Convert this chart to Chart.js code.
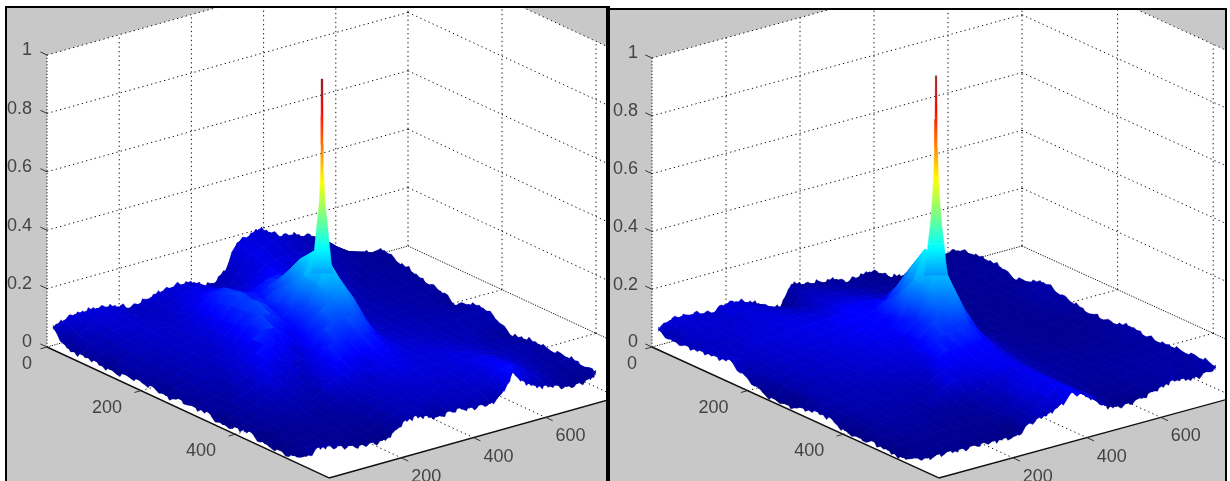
<!DOCTYPE html>
<html><head><meta charset="utf-8">
<style>
html,body{margin:0;padding:0;background:#fff;width:1230px;height:481px;overflow:hidden}
#fl,#fr{position:absolute;background:#000}
canvas{position:absolute;display:block}
</style>
<script src="https://cdn.jsdelivr.net/npm/chart.js@4"></script>
</head><body>
<div id="fl" style="left:5px;top:6px;width:605px;height:475px"></div>
<div id="fr" style="left:610px;top:8px;width:617px;height:473px"></div>
<canvas id="cl" width="599" height="473" style="left:7px;top:8px;width:599px;height:473px"></canvas>
<canvas id="cr" width="615" height="471" style="left:610px;top:10px;width:615px;height:471px"></canvas>
<script>
/* axis ticks */
const zTicks=[0,0.2,0.4,0.6,0.8,1];
const zTickText=['0','0.2','0.4','0.6','0.8','1'];
const aTicks=[0,200,400];
const bTicks=[200,400,600];
const aGrid=[200,400,600];
const bGrid=[200,400,600,800,1000];
const aMax=600,bMax=1000;
/* sample positions of the surface */
const aSamples=[5,35,65,95,125,155,185,215,245,275,305,335,365,395,425,455,485,515,545];
const bSamplesLeft=[10,40,70,100,130,160,190,220,250,280,310,340,370,400,430,460,490,520,550,580,610,640,670,700,730,760,790,811];
const bSamplesRight=[10,40,70,100,130,160,190,220,250,280,310,340,370,400,430,460,490,520,550,580,610,640,670,700,730,760,790,820];
/* surface heights, thousandths, one row per aSample */
const leftHeights=[
[68,80,90,90,90,85,75,60,65,75,85,90,90,85,60,65,100,180,190,205,185,160,155,140,130,110,65,30],
[20,55,70,78,82,80,72,65,62,70,82,95,100,95,80,78,110,165,178,188,175,160,150,138,125,105,80,60],
[20,45,60,70,74,76,70,66,64,72,90,108,115,105,92,95,120,150,160,168,160,150,140,128,118,105,100,90],
[20,40,52,62,68,72,70,66,70,85,115,140,145,125,110,120,135,140,145,150,145,135,122,115,110,108,118,120],
[14,38,48,58,64,68,68,68,78,100,135,158,155,135,128,150,155,125,122,125,122,115,105,100,100,105,110,100],
[20,36,46,54,60,64,66,70,85,112,148,168,150,140,160,210,170,110,100,100,98,95,90,90,92,98,100,90],
[24,34,44,52,58,62,64,70,88,118,152,176,150,145,205,280,215,100,85,82,80,80,80,82,85,88,85,75],
[24,32,42,50,56,60,64,74,105,140,165,155,125,160,255,330,255,105,80,72,72,74,75,76,78,80,76,70],
[14,30,40,48,54,60,70,92,120,145,140,110,115,170,250,320,250,115,78,70,68,68,70,72,72,70,60,45],
[24,30,38,46,52,62,85,110,125,115,95,95,130,190,225,260,205,100,76,68,66,66,66,68,68,68,66,70],
[20,30,38,44,54,75,95,105,100,80,75,105,160,175,180,190,145,90,76,68,65,64,64,64,66,68,72,80],
[24,28,36,46,62,80,88,80,65,62,90,135,140,135,145,140,100,85,76,70,66,62,60,58,58,58,60,60],
[5,26,34,46,58,70,68,58,55,70,110,115,110,108,120,108,90,82,78,74,70,64,58,54,50,44,36,30],
[17,24,32,40,50,54,50,44,60,90,95,88,84,96,100,92,84,82,80,80,76,70,62,54,50,48,42,40],
[24,24,30,34,40,42,40,38,55,70,72,70,80,86,88,84,80,80,82,86,86,78,66,56,52,50,46,45],
[7,20,26,30,32,34,34,36,42,52,62,70,76,78,78,76,74,76,82,92,96,86,70,58,50,46,42,40],
[7,20,24,26,28,30,30,32,40,54,66,70,72,70,68,66,66,70,80,100,110,92,72,56,44,36,38,45],
[10,28,28,26,24,24,22,24,34,54,68,70,66,60,58,56,56,60,72,105,115,92,68,50,34,28,32,40],
[30,50,45,35,25,17,15,12,30,58,65,55,40,48,50,40,40,35,58,120,80,55,45,35,20,20,25,40]];
const rightHeights=[
[62,80,83,80,73,66,83,83,70,55,30,20,90,80,73,66,66,45,52,60,45,20,15,17,40,50,50,50],
[45,62,72,74,72,68,76,80,74,66,56,52,88,84,76,70,68,56,56,58,48,36,32,32,42,52,56,60],
[50,58,64,68,70,70,72,76,76,72,66,66,86,88,82,74,70,62,60,58,50,44,42,42,46,54,60,63],
[55,56,60,64,68,70,72,74,76,76,74,76,88,92,90,84,76,66,60,56,50,46,44,44,48,54,58,60],
[60,56,58,62,66,68,70,72,76,80,82,86,94,98,100,96,90,74,60,52,46,42,40,40,42,44,44,40],
[70,58,56,60,64,66,68,70,74,80,86,92,98,104,125,165,130,85,58,48,42,38,36,36,38,42,48,55],
[40,50,54,58,62,64,66,68,72,78,86,92,98,115,175,255,180,90,58,46,40,36,34,34,38,46,62,75],
[17,42,50,56,60,62,64,66,70,76,84,90,96,125,245,340,245,100,60,46,40,36,34,34,38,46,56,60],
[4,36,46,52,58,60,62,64,68,74,80,88,100,135,235,330,240,100,58,44,38,34,32,32,34,40,48,50],
[4,32,44,50,54,56,58,62,66,70,76,84,105,150,185,250,165,85,54,42,36,32,30,30,32,36,40,40],
[17,34,44,50,52,52,54,56,60,62,72,92,125,135,145,155,115,70,50,40,36,32,30,28,30,34,38,40],
[28,38,44,48,48,48,48,48,52,56,72,100,112,115,115,115,90,58,44,38,36,34,32,30,32,36,40,45],
[28,38,42,44,44,42,42,42,46,56,82,92,95,100,105,100,76,50,40,38,38,38,36,36,38,42,48,60],
[7,30,38,40,40,38,36,34,44,60,72,76,78,88,98,92,68,46,38,38,40,40,40,40,42,44,48,50],
[4,26,34,36,36,34,32,30,28,28,34,44,56,74,95,90,64,42,36,36,40,42,44,44,46,46,48,50],
[14,22,28,30,30,28,26,24,22,24,32,44,56,76,96,90,62,40,34,34,38,42,46,48,50,50,52,55],
[7,18,22,24,24,22,20,18,18,20,30,44,58,76,100,90,60,36,28,28,32,38,44,50,50,48,50,55],
[4,14,18,20,20,18,16,14,14,14,28,44,56,76,102,92,60,32,20,20,26,34,42,50,50,44,48,60],
[24,14,17,17,14,14,14,10,10,7,35,48,55,73,104,90,62,28,14,14,20,30,40,52,48,40,48,55]];
/* small-scale roughness of the four outer edges, three readings per sample gap */
const leftBackRough=[3,1,6,2,7,3,5,1,4,8,2,5,1,6,3,7,2,4,5,9,1,3,6,2,8,4,1,5,2,7,3,6,1,4,9,2,6,3,5,1,7,2,8,4,1,6,3,5,2,9,4,1,7,3,5,2,6,8,1,4,3,7,2,5,6,1,8,3,4,2,7,5,1,6,3,9,2,4,6,1,5];
const leftRearRough=[2,6,1,5,3,8,2,4,7,1,6,3,5,2,9,4,1,6,3,7,2,5,8,1,4,6,2,7,3,5,1,8,4,2,6,3,7,1,5,9,2,4,6,3,1,7,5,2,8,3,6,1,4,5];
const leftFrontRough=[4,9,2,6,1,7,3,8,5,2,9,4,1,6,8,3,7,2,5,9,1,6,4,8,2,3,7,5,1,9,6,2,8,4,3,7,1,5,9,2,6,8,3,4,7,1,9,5,2,6,3,8,4,1,7,5,9,2,3,6,8,1,4,7,2,9,5,3,6,1,8,4,2,7,5,3,9,1,6,4,8];
const leftSideRough=[1,8,3,6,2,9,4,1,7,5,3,8,2,6,9,1,4,7,3,5,8,2,6,1,9,4,3,7,5,2,8,1,6,4,9,3,2,7,5,8,1,6,3,9,4,2,5,7,1,8,6,3,4,2];
const rightBackRough=[2,5,1,4,7,2,6,3,1,5,8,2,4,6,1,3,7,5,2,6,4,1,8,3,5,2,7,1,4,6,3,2,8,5,1,4,7,2,6,3,5,1,9,4,2,6,3,7,1,5,4,2,8,3,6,1,5,2,7,4,3,6,1,8,2,5,4,7,1,3,6,2,5,8,1,4,3,6,2,7,4];
const rightRearRough=[3,7,1,5,2,6,4,1,8,3,5,2,7,4,1,6,2,5,3,8,1,4,6,2,7,3,5,1,4,8,2,6,3,5,1,7,4,2,6,3,8,1,5,2,4,7,3,1,6,5,2,8,4,1];
const rightFrontRough=[3,6,1,7,4,2,8,5,1,6,3,7,2,9,4,1,5,7,3,6,2,8,1,4,7,5,2,6,9,3,1,8,4,6,2,5,7,1,3,9,6,2,4,8,1,5,3,7,2,6,4,9,1,5,3,8,2,6,7,1,4,5,9,2,3,7,6,1,8,4,2,5,6,3,7,1,9,4,2,5,6];
const rightSideRough=[2,7,4,1,6,3,8,2,5,7,1,4,9,3,6,2,8,5,1,7,4,3,6,9,2,5,1,8,4,3,7,2,6,5,1,9,3,4,8,2,6,1,5,7,3,9,2,4,6,1,8,5,3,2];
/* colour data relative to height (the surface colour is not height alone) */
const cRowA=[5,125,245,365,545];
const cColB=[10,125,240,355,470,585,700,820];
const leftColorGain=[
[.9,.9,.95,.9,.6,.37,.35,.2],
[.95,.95,1,1,1,.5,.3,.15],
[.9,.95,1,1,1,.8,.5,.4],
[.85,.85,.9,1,1,1,.9,.7],
[.7,.6,.6,.7,1,1,.9,.8]];
const rightColorGain=[
[1,1,1,.4,.4,.3,.3,.3],
[1.1,1.2,1.3,1.3,1,.5,.5,.5],
[1,1.1,1.2,1.2,1,.5,.5,.6],
[.9,1,1.1,1.1,1.1,.7,.6,.6],
[.8,.8,.9,1.1,1.1,.8,.7,.7]];
/* central spike: position, height and radius at that height */
const leftPeakPosition=[226,468];
const rightPeakPosition=[232,468];
const leftPeakZ=[.26,.30,.37,.42,.50,.60,.70,.80,.925];
const leftPeakR=[19,15.5,12,9.5,5,2.8,2,1.5,1.1];
const rightPeakZ=[.26,.30,.37,.43,.50,.60,.70,.80,.95];
const rightPeakR=[20,17,13.5,10,7,4,2.6,1.8,1.1];

const GREY='#c8c8c8';
function jet(t){t=Math.max(0,Math.min(1,t));
 const f=(c)=>Math.round(255*Math.max(0,Math.min(1,1.5-Math.abs(4*t-c))));
 return `rgb(${f(3)},${f(2)},${f(1)})`;}
function gainAt(g,a,b){
 let i=0;while(i<cRowA.length-2&&a>cRowA[i+1])i++;
 let j=0;while(j<cColB.length-2&&b>cColB[j+1])j++;
 const u=Math.min(1,Math.max(0,(a-cRowA[i])/(cRowA[i+1]-cRowA[i])));
 const v=Math.min(1,Math.max(0,(b-cColB[j])/(cColB[j+1]-cColB[j])));
 return (g[i][j]*(1-v)+g[i][j+1]*v)*(1-u)+(g[i+1][j]*(1-v)+g[i+1][j+1]*v)*u;}

function gradFill(fallback,lo,hi,cLo,cHi){
 return c=>{const ch=c.chart;if(!ch.chartArea||!ch.scales.x)return fallback;
  const X=ch.scales.x,Y=ch.scales.y;
  const x0=X.getPixelForValue(lo.x),y0=Y.getPixelForValue(lo.y),x1=X.getPixelForValue(hi.x),y1=Y.getPixelForValue(hi.y);
  if(![x0,y0,x1,y1].every(Number.isFinite)||(x0===x1&&y0===y1))return fallback;
  const g=ch.ctx.createLinearGradient(x0,y0,x1,y1);
  for(let k=0;k<=4;k++)g.addColorStop(k/4,jet(cLo+(cHi-cLo)*k/4));
  return g;};}

function build(id,view,bS,heights,gains,peakPos,peakZ,peakR,rough,frame){
 const P=(a,b,z)=>({x:view.ox+view.ax*a+view.bx*b,y:view.oy+view.ay*a+view.by*b-view.zy*z});
 const seq=[];
 const line=(pts,color,width,dash)=>seq.push({data:pts,showLine:true,pointRadius:0,borderColor:color,borderWidth:width,borderDash:dash||[],fill:false,tension:0});
 const DOT=[1.3,3.2],DENSE=[1.2,1.3],C='#111';
 /* box */
 seq.push({data:[P(0,0,0),P(0,0,1),P(0,bMax,1),P(aMax,bMax,1),P(aMax,bMax,0),P(aMax,0,0),P(0,0,0)],showLine:true,pointRadius:0,borderWidth:0,backgroundColor:'#fff',fill:'shape'});
 zTicks.slice(1).forEach(z=>{line([P(0,0,z),P(0,bMax,z)],C,1,DOT);line([P(0,bMax,z),P(aMax,bMax,z)],C,1,DOT);});
 bGrid.forEach(b=>line([P(0,b,0),P(0,b,1)],C,1,DOT));
 aGrid.forEach(a=>line([P(a,bMax,0),P(a,bMax,1)],C,1,DOT));
 line([P(0,0,0),P(0,0,1)],C,1,[1.2,2]);
 aGrid.slice(0,2).forEach(a=>line([P(a,0,0),P(a,bMax,0)],C,1,DOT));
 bGrid.slice(0,4).forEach(b=>line([P(0,b,0),P(aMax,b,0)],C,1,DOT));
 line([P(0,0,0),P(0,bMax,0)],C,1,DENSE);
 line([P(0,bMax,0),P(aMax,bMax,0)],C,1,DENSE);
 line([P(0,0,0),P(aMax,0,0)],'#111',1.4);
 line([P(aMax,0,0),P(aMax,bMax,0)],'#111',1.4);
 zTicks.forEach(z=>line([P(-14,0,z),P(0,0,z)],'#333',1));
 aTicks.forEach(a=>line([P(a,-18,0),P(a,0,0)],'#333',1));
 bTicks.forEach(b=>line([P(aMax+15,b,0),P(aMax,b,0)],'#333',1));
 const zOf=(i,j)=>heights[i][j]/1000;
 const colOf=(i,j)=>zOf(i,j)*gainAt(gains,aSamples[i],bS[j])/view.zMax;
 /* rough fringe along an outer edge: vertices are [row,col] pairs, sign +1 up, -1 down */
 const fringe=(verts,list,sign)=>{
  for(let n=0;n<verts.length-1;n++){
   const [i0,j0]=verts[n],[i1,j1]=verts[n+1];
   const a0=aSamples[i0],a1=aSamples[i1],b0=bS[j0],b1=bS[j1],z0=zOf(i0,j0),z1=zOf(i1,j1);
   const pts=[P(a0,b0,z0-sign*.008)];
   [.25,.5,.75].forEach((t,m)=>{
    const r=list[n*3+m]*1.5/1000;
    pts.push(P(a0+(a1-a0)*t,b0+(b1-b0)*t,z0+(z1-z0)*t+sign*r));});
   pts.push(P(a1,b1,z1-sign*.008));pts.push(pts[0]);
   const col=jet((colOf(i0,j0)+colOf(i1,j1))/2);
   seq.push({data:pts,showLine:true,pointRadius:0,tension:0,fill:'shape',backgroundColor:col,borderColor:col,borderWidth:.3});
  }};
 const lastI=aSamples.length-1,lastJ=bS.length-1;
 fringe(bS.map((_,j)=>[0,j]),rough[0],1);
 fringe(aSamples.map((_,i)=>[i,lastJ]),rough[1],1);
 /* surface, back to front */
 for(let i=0;i<aSamples.length-1;i++){
  for(let j=bS.length-1;j>0;j--){
   const cs=[[i,j],[i,j-1],[i+1,j-1],[i+1,j]];
   const pts=cs.map(([p,q])=>P(aSamples[p],bS[q],zOf(p,q)));
   const vals=cs.map(([p,q])=>colOf(p,q));
   let lo=0,hi=0;vals.forEach((v,k)=>{if(v<vals[lo])lo=k;if(v>vals[hi])hi=k;});
   const mean=jet(vals.reduce((s,v)=>s+v,0)/4);
   const fillFn=gradFill(mean,pts[lo],pts[hi],vals[lo],vals[hi]);
   seq.push({data:[...pts,pts[0]],showLine:true,pointRadius:0,tension:0,fill:'shape',backgroundColor:fillFn,borderColor:fillFn,borderWidth:.9});
  }
 }
 fringe(bS.map((_,j)=>[lastI,j]),rough[2],-1);
 fringe(aSamples.map((_,i)=>[i,0]),rough[3],-1);
 /* spike */
 const [pa,pb]=peakPos;
 for(let k=0;k<peakZ.length-1;k++){
  const z0=peakZ[k],z1=peakZ[k+1],r0=peakR[k],r1=peakR[k+1],s=.4627;
  const p=[P(pa-s*r0,pb-r0,z0),P(pa+s*r0,pb+r0,z0),P(pa+s*r1,pb+r1,z1),P(pa-s*r1,pb-r1,z1)];
  const fn=gradFill(jet(z0/view.zMax),P(pa,pb,z0),P(pa,pb,z1),z0/view.zMax,z1/view.zMax);
  seq.push({data:[...p,p[0]],showLine:true,pointRadius:0,tension:0,fill:'shape',backgroundColor:fn,borderColor:fn,borderWidth:.4});
 }
 const labels={id:'tickText',afterDraw(ch){
  const ctx=ch.ctx,X=ch.scales.x,Y=ch.scales.y;
  ctx.save();ctx.font='18px "Liberation Sans"';ctx.fillStyle='#444';ctx.textBaseline='middle';
  ctx.textAlign='right';
  zTicks.forEach((z,k)=>{const p=P(0,0,z);ctx.fillText(zTickText[k],X.getPixelForValue(p.x-view.zlab),Y.getPixelForValue(p.y-4.5));});
  ctx.textAlign='center';
  aTicks.forEach(a=>{const p=P(a,0,0);ctx.fillText(a?String(a):'0',X.getPixelForValue(p.x+(a?-34:-20)),Y.getPixelForValue(p.y+17));});
  bTicks.forEach(b=>{const p=P(aMax,b,0);ctx.fillText(String(b),X.getPixelForValue(p.x+25),Y.getPixelForValue(p.y+19));});
  ctx.restore();}};
 new Chart(document.getElementById(id),{type:'scatter',data:{datasets:seq.slice().reverse()},plugins:[labels],
  options:{responsive:false,animation:false,events:[],parsing:false,normalized:true,layout:{padding:0},
   plugins:{legend:{display:false},tooltip:{enabled:false},title:{display:false}},
   scales:{x:{type:'linear',display:false,min:frame[0],max:frame[1]},y:{type:'linear',display:false,reverse:true,min:frame[2],max:frame[3]}}}});
 document.getElementById(id).style.background=GREY;
}
build('cl',{ox:47,oy:347,ax:.47,ay:.2183,bx:.361,by:-.101,zy:292,zMax:.92,zlab:15},bSamplesLeft,leftHeights,leftColorGain,leftPeakPosition,leftPeakZ,leftPeakR,[leftBackRough,leftRearRough,leftFrontRough,leftSideRough],[7,606,8,481]);
build('cr',{ox:652,oy:347,ax:.478,ay:.2183,bx:.37,by:-.101,zy:289,zMax:.95,zlab:14},bSamplesRight,rightHeights,rightColorGain,rightPeakPosition,rightPeakZ,rightPeakR,[rightBackRough,rightRearRough,rightFrontRough,rightSideRough],[610,1225,10,481]);
</script>
</body></html>
